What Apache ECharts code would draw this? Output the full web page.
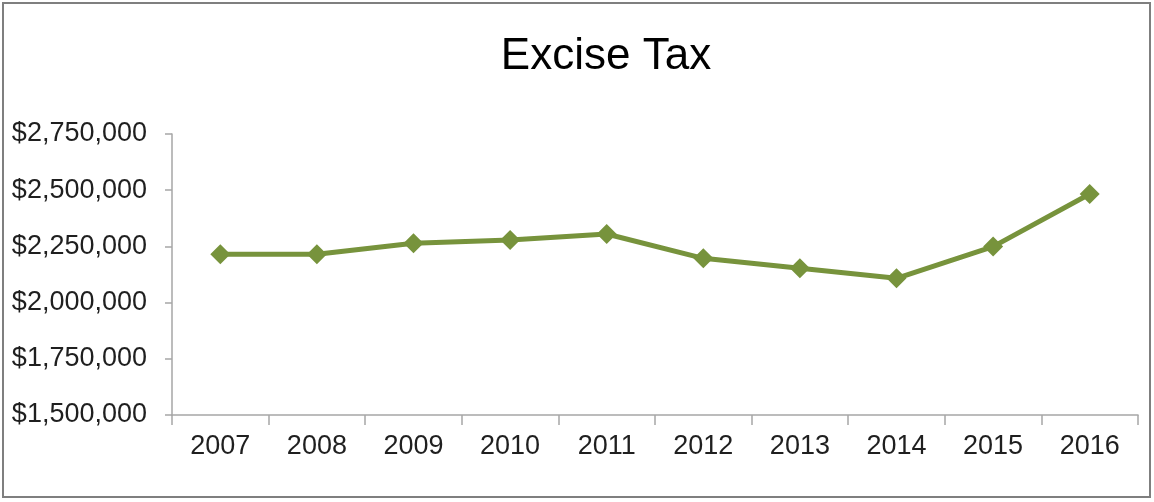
<!DOCTYPE html>
<html>
<head>
<meta charset="utf-8">
<script src="https://cdn.jsdelivr.net/npm/echarts@6/dist/echarts.min.js"></script>
<style>
  html, body { margin: 0; padding: 0; background: #fff; }
  #chart { width: 1154px; height: 502px; }
</style>
</head>
<body>
<div id="chart"></div>
<script>
// Excise tax collections by fiscal year
const years = ['2007', '2008', '2009', '2010', '2011', '2012', '2013', '2014', '2015', '2016'];
const exciseTax = [2215000, 2215000, 2264000, 2278000, 2305000, 2197000, 2153000, 2108000, 2249000, 2483000];
const yMin = 1500000;
const yMax = 2750000;
const yStep = 250000;

const fmtMoney = v => '$' + Math.round(v).toString().replace(/\B(?=(\d{3})+(?!\d))/g, ',');

const chart = echarts.init(document.getElementById('chart'), null, { renderer: 'canvas' });
const axisGray = '#A6A6A6';
const labelFont = { fontFamily: 'Liberation Sans, Arial, sans-serif', fontSize: 27, color: '#1F1F1F' };

chart.setOption({
  backgroundColor: '#ffffff',
  animation: false,
  title: {
    text: 'Excise Tax',
    left: 601,
    top: 30,
    textAlign: 'center',
    textStyle: { fontFamily: 'Liberation Sans, Arial, sans-serif', fontSize: 44, fontWeight: 'normal', color: '#000000' }
  },
  graphic: [{
    type: 'rect',
    shape: { x: 3, y: 3, width: 1147, height: 494 },
    style: { fill: 'none', stroke: '#7F7F7F', lineWidth: 2 },
    silent: true
  }],
  grid: { left: 172, right: 16, top: 134, bottom: 87 },
  xAxis: {
    type: 'category',
    data: years,
    boundaryGap: true,
    axisLine: { show: true, lineStyle: { color: axisGray, width: 1.5 } },
    axisTick: { show: true, length: 10, alignWithLabel: false, lineStyle: { color: axisGray, width: 1.5 } },
    axisLabel: Object.assign({ margin: 18, interval: 0 }, labelFont),
    splitLine: { show: false }
  },
  yAxis: {
    type: 'value',
    min: yMin,
    max: yMax,
    interval: yStep,
    axisLine: { show: true, lineStyle: { color: axisGray, width: 1.5 } },
    axisTick: { show: true, length: 7, lineStyle: { color: axisGray, width: 1.5 } },
    axisLabel: Object.assign({ margin: 25, formatter: fmtMoney }, labelFont),
    splitLine: { show: false }
  },
  series: [{
    name: 'Excise Tax',
    type: 'line',
    data: exciseTax,
    symbol: 'diamond',
    symbolSize: 20,
    lineStyle: { color: '#77933C', width: 5 },
    itemStyle: { color: '#77933C' }
  }]
});
</script>
</body>
</html>
